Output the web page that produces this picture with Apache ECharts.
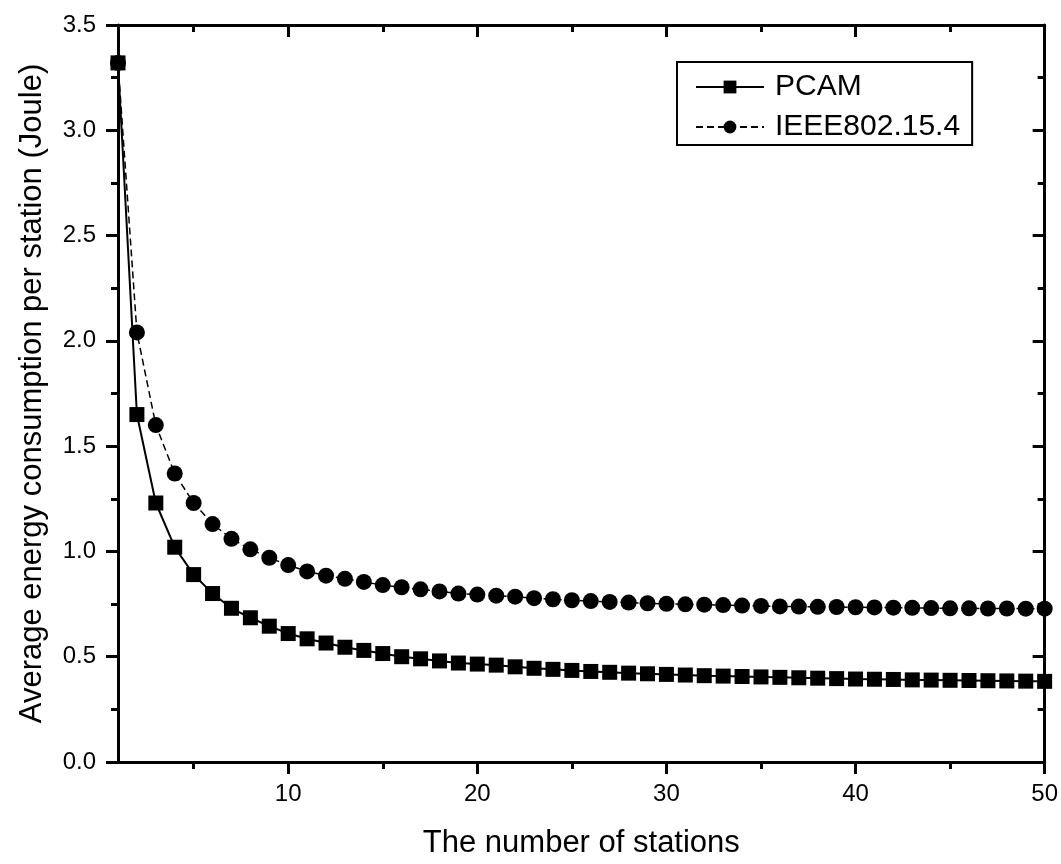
<!DOCTYPE html>
<html>
<head>
<meta charset="utf-8">
<script src="https://cdn.jsdelivr.net/npm/echarts@6/dist/echarts.min.js"></script>
<style>
html,body{margin:0;padding:0;background:#fff;}
#chart{width:1061px;height:864px;}
</style>
</head>
<body>
<div id="chart"></div>
<script>
const stations = [1,2,3,4,5,6,7,8,9,10,11,12,13,14,15,16,17,18,19,20,21,22,23,24,25,26,27,28,29,30,31,32,33,34,35,36,37,38,39,40,41,42,43,44,45,46,47,48,49,50];
const pcam = [3.32,1.65,1.23,1.02,0.89,0.80,0.73,0.685,0.645,0.61,0.585,0.565,0.545,0.53,0.515,0.50,0.49,0.48,0.47,0.465,0.46,0.452,0.445,0.44,0.435,0.43,0.426,0.422,0.419,0.416,0.413,0.41,0.408,0.406,0.404,0.402,0.40,0.398,0.396,0.394,0.393,0.392,0.39,0.389,0.388,0.387,0.386,0.385,0.384,0.383];
const ieee = [3.32,2.04,1.60,1.37,1.23,1.13,1.06,1.01,0.97,0.935,0.905,0.885,0.87,0.855,0.84,0.83,0.82,0.81,0.80,0.795,0.79,0.785,0.778,0.773,0.768,0.764,0.76,0.757,0.754,0.751,0.749,0.747,0.745,0.743,0.741,0.739,0.738,0.737,0.736,0.735,0.734,0.733,0.732,0.731,0.73,0.73,0.729,0.729,0.728,0.728];
const xMajorTicks = [10,20,30,40,50];
const xMinorTicks = [5,15,25,35,45];
const seriesNames = ['PCAM','IEEE802.15.4'];
const xTitle = 'The number of stations';
const yTitle = 'Average energy consumption per station (Joule)';

const FONT = '"Liberation Sans", Arial, sans-serif';
const chart = echarts.init(document.getElementById('chart'), null, {renderer:'canvas'});

function pairs(ys){ return stations.map((x,i)=>[x, ys[i]]); }

const baseX = {type:'value', min:1, max:50, splitLine:{show:false}};
chart.setOption({
  backgroundColor:'#fff',
  animation:false,
  grid:{left:118, right:14, top:25, bottom:100, containLabel:false},
  legend:{
    orient:'vertical', left:677, top:62,
    itemWidth:68, itemHeight:16, itemGap:10,
    padding:[10,12,3,18],
    borderColor:'#000', borderWidth:2,
    textStyle:{fontFamily:FONT, fontSize:30, color:'#000', padding:[0,0,0,6]},
    data:seriesNames
  },
  xAxis:[
    Object.assign({}, baseX, {
      position:'bottom',
      name:xTitle, nameLocation:'middle', nameGap:66,
      nameTextStyle:{fontFamily:FONT, fontSize:31, color:'#000'},
      axisLine:{show:true, lineStyle:{color:'#000', width:3}},
      axisTick:{show:true, inside:false, length:12, lineStyle:{color:'#000', width:3}, customValues:xMajorTicks},
      axisLabel:{show:true, margin:20, fontFamily:FONT, fontSize:24, color:'#000', customValues:xMajorTicks}
    }),
    Object.assign({}, baseX, {
      position:'bottom',
      axisLine:{show:false},
      axisTick:{show:true, inside:false, length:7, lineStyle:{color:'#000', width:3}, customValues:xMinorTicks},
      axisLabel:{show:false}
    }),
    Object.assign({}, baseX, {
      position:'top',
      axisLine:{show:true, lineStyle:{color:'#000', width:3}},
      axisTick:{show:true, inside:true, length:12, lineStyle:{color:'#000', width:3}, customValues:xMajorTicks},
      axisLabel:{show:false}
    }),
    Object.assign({}, baseX, {
      position:'top',
      axisLine:{show:false},
      axisTick:{show:true, inside:true, length:7, lineStyle:{color:'#000', width:3}, customValues:xMinorTicks},
      axisLabel:{show:false}
    })
  ],
  yAxis:[
    {
      type:'value', min:0, max:3.5, interval:0.5, position:'left',
      name:yTitle, nameLocation:'middle', nameGap:70,
      nameTextStyle:{fontFamily:FONT, fontSize:31, color:'#000'},
      splitLine:{show:false},
      axisLine:{show:true, lineStyle:{color:'#000', width:3}},
      axisTick:{show:true, inside:false, length:12, lineStyle:{color:'#000', width:3}},
      minorTick:{show:true, splitNumber:2, length:7, lineStyle:{color:'#000', width:3}},
      axisLabel:{margin:22, fontFamily:FONT, fontSize:24, color:'#000', formatter:v=>v.toFixed(1)}
    },
    {
      type:'value', min:0, max:3.5, interval:0.5, position:'right',
      splitLine:{show:false},
      axisLine:{show:true, lineStyle:{color:'#000', width:3}},
      axisTick:{show:true, inside:true, length:12, lineStyle:{color:'#000', width:3}},
      minorTick:{show:true, splitNumber:2, length:7, lineStyle:{color:'#000', width:3}},
      axisLabel:{show:false}
    }
  ],
  series:[
    {
      name:seriesNames[0], type:'line', xAxisIndex:0, yAxisIndex:0,
      data:pairs(pcam),
      symbol:'rect', symbolSize:15,
      itemStyle:{color:'#000'},
      lineStyle:{color:'#000', width:2, type:'solid'},
      z:3
    },
    {
      name:seriesNames[1], type:'line', xAxisIndex:0, yAxisIndex:0,
      data:pairs(ieee),
      symbol:'circle', symbolSize:16,
      itemStyle:{color:'#000'},
      lineStyle:{color:'#000', width:1.5, type:[7,4]},
      z:2
    }
  ]
});
</script>
</body>
</html>
